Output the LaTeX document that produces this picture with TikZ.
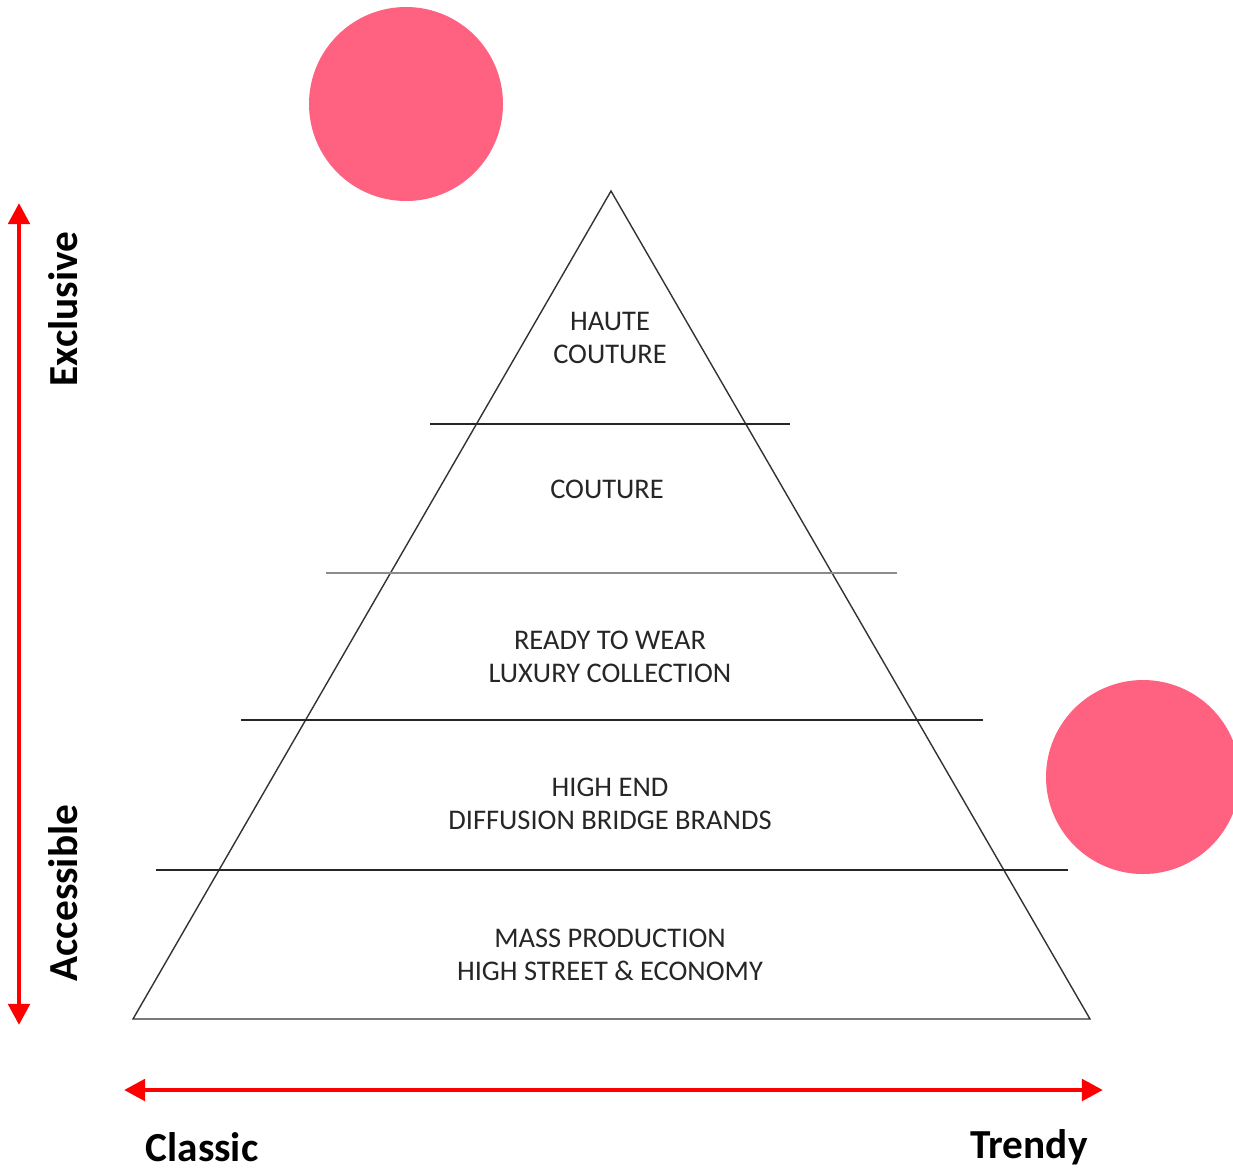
\documentclass[tikz,border=0pt]{standalone}
\usepackage{fontspec}
\setmainfont{Carlito}
\usetikzlibrary{arrows.meta}
\definecolor{dotpink}{HTML}{FF6180}
\tikzset{
  level/.style={align=center,font=\fontsize{16.2}{18.5}\selectfont,text=black!85},
  tier/.style={black!85,line width=0.9pt},
  axis/.style={red,line width=2.8pt,{Triangle[length=12pt,width=12pt]}-{Triangle[length=12pt,width=12pt]}},
  side/.style={font=\bfseries\fontsize{23.5}{26}\selectfont}
}
\begin{document}
\begin{tikzpicture}[x=0.02cm,y=-0.02cm]
\useasboundingbox (0,0) rectangle (1233,1171);
\clip (0,0) rectangle (1233,1171);

\fill[dotpink] (406,104) circle (97);
\fill[dotpink] (1143,777) circle (97);

\coordinate (top) at (611,191);
\coordinate (bl) at (133,1019);
\coordinate (br) at (1090,1019);
\draw[black!80,line width=0.8pt] (top) -- (bl) -- (br) -- cycle;

\draw[tier] (430,424) -- (790,424);
\draw[tier,black!45] (326,573) -- (897,573);
\draw[tier] (241,720) -- (983,720);
\draw[tier] (156,870) -- (1068,870);

\node[level] (haute) at (610,338) {HAUTE\\COUTURE};
\node[level] (couture) at (607,489) {COUTURE};
\node[level] (rtw) at (610,657) {READY TO WEAR\\LUXURY COLLECTION};
\node[level] (high) at (610,804) {HIGH END\\DIFFUSION BRIDGE BRANDS};
\node[level] (mass) at (610,955) {MASS PRODUCTION\\HIGH STREET \& ECONOMY};

\coordinate (vtop) at (19,203);
\coordinate (vbot) at (19,1025);
\coordinate (hleft) at (124,1090);
\coordinate (hright) at (1103,1090);
\draw[axis] (vbot) -- (vtop);
\draw[axis] (hleft) -- (hright);

\node[side,rotate=90] (excl) at (63,309) {Exclusive};
\node[side,rotate=90] (acc) at (63,893) {Accessible};
\node[side] (classic) at (202,1147) {Classic};
\node[side] (trendy) at (1029,1147) {Trendy};
\end{tikzpicture}
\end{document}
